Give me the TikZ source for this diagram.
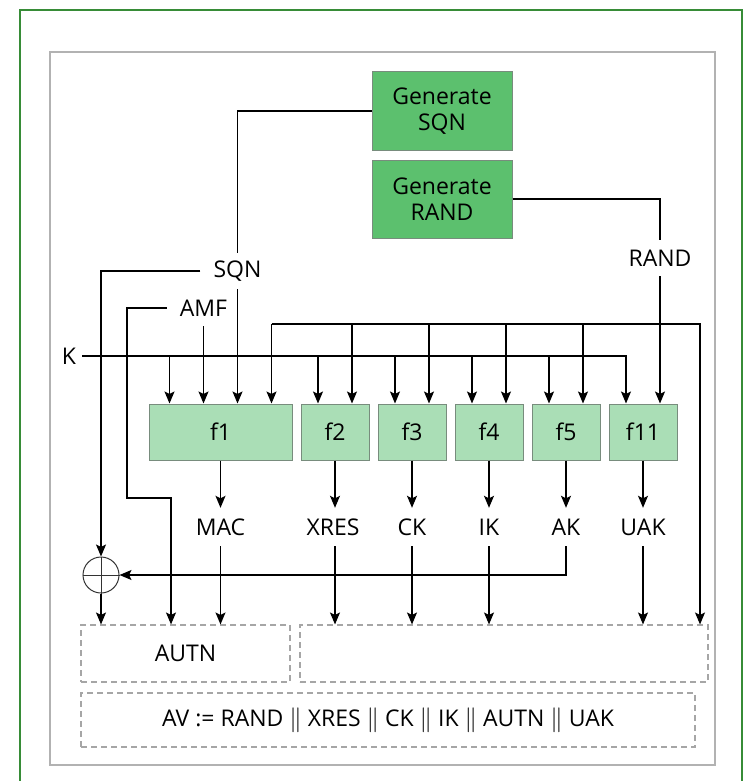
\documentclass[tikz,border=0pt]{standalone}
\usepackage{fontspec}
\setmainfont{Open Sans}
\usepackage{xcolor}
\usetikzlibrary{arrows.meta, positioning}

\definecolor{frameGreen}{RGB}{55,140,55}
\definecolor{genGreen}{RGB}{92,192,110}
\definecolor{funGreen}{RGB}{170,222,182}
\definecolor{boxEdge}{RGB}{120,140,125}

\begin{document}
\begin{tikzpicture}[
    x=1pt, y=-1pt,
    box/.style    = {rectangle, draw=boxEdge, line width=1pt,
                     align=center, font=\fontsize{23}{26}\selectfont},
    genbox/.style = {box, fill=genGreen, minimum width=140pt, minimum height=78pt},
    funbox/.style = {box, fill=funGreen, minimum width=68pt, minimum height=56pt},
    lbl/.style    = {inner ysep=0pt, inner xsep=13pt, minimum height=36pt,
                     font=\fontsize{23}{26}\selectfont},
    dbox/.style   = {rectangle, draw=gray!70, dashed, dash pattern=on 6pt off 4pt,
                     line width=1.1pt, font=\fontsize{23}{26}\selectfont},
    arr/.style    = {-{Stealth[length=12pt, width=10pt, inset=2.5pt]}, line width=1.3pt},
    ln/.style     = {line width=1.3pt}
]
\useasboundingbox (0,0) rectangle (745,781);

%% ---- frames ----
\draw[frameGreen, line width=2.5pt] (20,10) rectangle (742,800);
\draw[gray!60, line width=1.4pt] (50,52) rectangle (715,765);

%% ---- generators ----
\node[genbox] (gsqn)  at (442,111) {Generate\\SQN};
\node[genbox] (grand) at (442,199) {Generate\\RAND};

%% ---- input labels ----
\node[lbl] (sqn)  at (237.5,271) {SQN};
\node[lbl] (amf)  at (203.5,308) {AMF};
\node[lbl] (rand) at (660,258)   {RAND};
\node[lbl, inner xsep=6pt] (k) at (69,356) {K};

%% ---- functions ----
\node[funbox, minimum width=143pt] (f1) at (220.5,432) {f1};
\node[funbox] (f2)  at (335,432) {f2};
\node[funbox] (f3)  at (412,432) {f3};
\node[funbox] (f4)  at (489,432) {f4};
\node[funbox] (f5)  at (566,432) {f5};
\node[funbox] (f11) at (643,432) {f11};

%% ---- outputs ----
\node[lbl, minimum height=38pt] (mac)  at (220.5,527) {MAC};
\node[lbl, minimum height=38pt] (xres) at (333,527)   {XRES};
\node[lbl, minimum height=38pt] (ck)   at (412,527)   {CK};
\node[lbl, minimum height=38pt] (ik)   at (489,527)   {IK};
\node[lbl, minimum height=38pt] (ak)   at (566,527)   {AK};
\node[lbl, minimum height=38pt] (uak)  at (643,527)   {UAK};

\node[circle, draw=black!80, line width=1pt, minimum size=36pt, inner sep=0pt] (xor) at (101,575) {};
\draw[black!80, line width=1pt] (xor.north) -- (xor.south) (xor.west) -- (xor.east);

%% ---- result boxes ----
\node[dbox, minimum width=209pt, minimum height=57pt] (autn) at (185.5,653.5) {AUTN};
\node[dbox, minimum width=408pt, minimum height=57pt] (rest) at (504,653.5)   {};
\node[dbox, minimum width=614pt, minimum height=54pt] (av)   at (388,720)
    {AV := RAND $\|$ XRES $\|$ CK $\|$ IK $\|$ AUTN $\|$ UAK};

\coordinate (rbus)    at (700,324);
\coordinate (amfturn) at (127,498);
\coordinate (amfdrop) at (171,498);

%% =============================================
%% ARROWS - inputs
%% =============================================
\draw[ln] (gsqn.west) -| (sqn.north);
\draw[arr] (sqn.south) -- (sqn.south |- f1.north);
\draw[arr] (sqn.west) -| (xor.north);
\draw[arr] (amf.south) -- (amf.south |- f1.north);
\draw[arr] (amf.west) -| (amfturn) -- (amfdrop) -- (amfdrop |- autn.north);

\draw[ln] (grand.east) -| (rand.north);
\draw[arr] (rand.south) -- (rand.south |- f11.north);

%% K bus
\draw[arr] (k.east) -| ([xshift=-17pt]f11.north);
\draw[arr] ([xshift=-51pt]f1.north |- k.east) -- ([xshift=-51pt]f1.north);
\foreach \f in {f2,f3,f4,f5}
    \draw[arr] ([xshift=-17pt]\f.north |- k.east) -- ([xshift=-17pt]\f.north);

%% RAND bus
\draw[arr] ([xshift=51pt]f1.north |- rbus) -- (rbus) -- (rbus |- rest.north);
\draw[arr] ([xshift=51pt]f1.north |- rbus) -- ([xshift=51pt]f1.north);
\foreach \f in {f2,f3,f4,f5}
    \draw[arr] ([xshift=17pt]\f.north |- rbus) -- ([xshift=17pt]\f.north);

%% =============================================
%% ARROWS - outputs
%% =============================================
\draw[arr] (f1.south)  -- (mac.north);
\draw[arr] (f2.south)  -- (f2.south |- xres.north);
\draw[arr] (f3.south)  -- (ck.north);
\draw[arr] (f4.south)  -- (ik.north);
\draw[arr] (f5.south)  -- (ak.north);
\draw[arr] (f11.south) -- (uak.north);

\draw[arr] (mac.south)  -- (mac.south |- autn.north);
\draw[arr] (f2.south |- xres.south) -- (f2.south |- rest.north);
\draw[arr] (ck.south)   -- (ck.south |- rest.north);
\draw[arr] (ik.south)   -- (ik.south |- rest.north);
\draw[arr] (uak.south)  -- (uak.south |- rest.north);
\draw[arr] (ak.south) |- (xor.east);
\draw[arr] (xor.south) -- (xor.south |- autn.north);

\end{tikzpicture}
\end{document}
